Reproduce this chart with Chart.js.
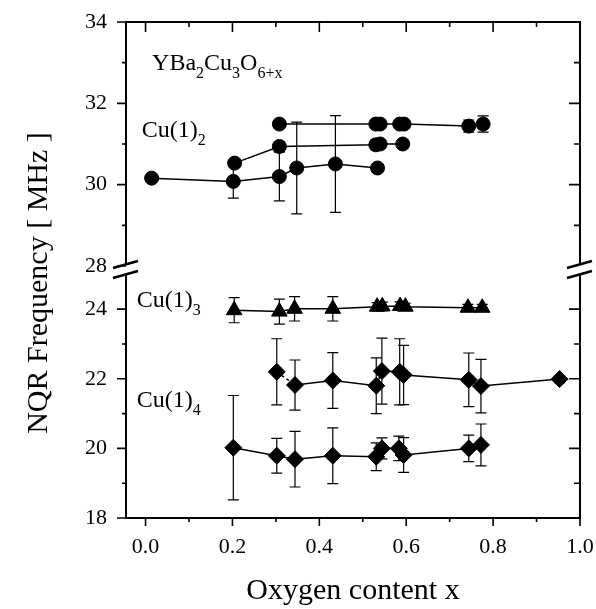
<!DOCTYPE html>
<html>
<head>
<meta charset="utf-8">
<script src="https://cdn.jsdelivr.net/npm/chart.js@4.4.1/dist/chart.umd.min.js"></script>
<style>
  html, body { margin:0; padding:0; background:#fff; }
  #wrap { width:596px; height:609px; }
</style>
</head>
<body>
<div id="wrap"><canvas id="nqr"></canvas></div>
<script>
// Cu(1)2 lines (upper block, 28-34 MHz)
var cu2aX = [0.014, 0.202, 0.308, 0.348, 0.437, 0.534];
var cu2aY = [30.16, 30.08, 30.20, 30.41, 30.51, 30.41];
var cu2aErr = [0.08, 0.41, 0.6, 1.13, 1.19, 0.1];
var cu2bX = [0.205, 0.308, 0.53, 0.54, 0.592];
var cu2bY = [30.53, 30.94, 30.98, 31.0, 31.0];
var cu2bErr = [0.08, 0.12, 0.12, 0.1, 0.06];
var cu2cX = [0.308, 0.53, 0.54, 0.585, 0.595, 0.744, 0.777];
var cu2cY = [31.49, 31.49, 31.49, 31.49, 31.49, 31.44, 31.49];
var cu2cErr = [0.05, 0.1, 0.1, 0.08, 0.08, 0.15, 0.2];
// Cu(1)3
var cu3X = [0.204, 0.308, 0.343, 0.431, 0.533, 0.545, 0.586, 0.598, 0.742, 0.775];
var cu3Y = [23.97, 23.93, 24.01, 24.01, 24.07, 24.08, 24.09, 24.07, 24.04, 24.04];
var cu3Err = [0.36, 0.36, 0.35, 0.35, 0.12, 0.12, 0.12, 0.1, 0.1, 0.1];
// Cu(1)4, two lines
var cu4aX = [0.302, 0.344, 0.431, 0.531, 0.544, 0.585, 0.594, 0.744, 0.772, 0.953];
var cu4aY = [22.2, 21.82, 21.95, 21.8, 22.22, 22.2, 22.11, 21.97, 21.79, 21.99];
var cu4aErr = [0.95, 0.72, 0.8, 0.8, 0.95, 0.95, 0.85, 0.77, 0.77, 0.1];
var cu4bX = [0.202, 0.302, 0.344, 0.431, 0.531, 0.544, 0.583, 0.594, 0.744, 0.772];
var cu4bY = [20.02, 19.79, 19.69, 19.79, 19.76, 20.0, 20.0, 19.81, 20.0, 20.1];
var cu4bErr = [1.5, 0.5, 0.8, 0.8, 0.4, 0.3, 0.35, 0.5, 0.38, 0.6];

// axis ticks
var xTicks = [0, 0.1, 0.2, 0.3, 0.4, 0.5, 0.6, 0.7, 0.8, 0.9, 1.0];
var lowTicks = [18, 19, 20, 21, 22, 23, 24];
var highTicks = [28, 29, 30, 31, 32, 33, 34];

// text labels inside the plot: [text, subscript] pieces, anchored in data space
var noteParts = [
  [['YBa', ''], ['2', 's'], ['Cu', ''], ['3', 's'], ['O', ''], ['6+x', 's']],
  [['Cu(1)', ''], ['2', 's']],
  [['Cu(1)', ''], ['3', 's']],
  [['Cu(1)', ''], ['4', 's']]
];
var noteX = [0.015, -0.009, -0.02, -0.02];
var noteY = [32.82, 31.17, 24.07, 21.2];
var noteAxis = ['y2', 'y2', 'y', 'y'];

var SERIF = "'Liberation Serif', 'Times New Roman', serif";
Chart.defaults.font.family = SERIF;
Chart.defaults.color = '#000';

function pts(xs, ys) {
  return xs.map(function(x, i) { return {x: x, y: ys[i]}; });
}

function series(xs, ys, errs, axis, style, radius) {
  return {
    data: pts(xs, ys),
    errors: errs,
    yAxisID: axis,
    showLine: true,
    borderColor: '#000',
    backgroundColor: '#000',
    borderWidth: 1.5,
    pointStyle: style,
    pointRadius: radius,
    pointHoverRadius: radius,
    pointBorderWidth: 1
  };
}

// no extra room for overhanging tick labels, the frame is pinned by layout padding
function noPad(s) {
  s.paddingTop = 0; s.paddingBottom = 0;
  s.paddingLeft = 0; s.paddingRight = 0;
}

var errorBars = {
  id: 'errorBars',
  beforeDatasetsDraw: function(chart) {
    var ctx = chart.ctx;
    ctx.save();
    ctx.strokeStyle = '#000';
    ctx.lineWidth = 1.2;
    chart.data.datasets.forEach(function(ds, i) {
      var meta = chart.getDatasetMeta(i);
      var ys = chart.scales[meta.yAxisID];
      var xs = chart.scales[meta.xAxisID];
      ds.data.forEach(function(p, j) {
        var e = ds.errors[j];
        var px = xs.getPixelForValue(p.x);
        var top = ys.getPixelForValue(p.y + e);
        var bot = ys.getPixelForValue(p.y - e);
        ctx.beginPath();
        ctx.moveTo(px, top); ctx.lineTo(px, bot);
        ctx.moveTo(px - 5.5, top); ctx.lineTo(px + 5.5, top);
        ctx.moveTo(px - 5.5, bot); ctx.lineTo(px + 5.5, bot);
        ctx.stroke();
      });
    });
    ctx.restore();
  }
};

var frame = {
  id: 'frame',
  afterDraw: function(chart) {
    var ctx = chart.ctx, a = chart.chartArea;
    var x = chart.scales.x, lo = chart.scales.y, hi = chart.scales.y2;
    var yb = hi.bottom;
    ctx.save();
    ctx.strokeStyle = '#000';
    ctx.lineWidth = 2;
    ctx.beginPath();
    ctx.moveTo(a.left - 1, a.top); ctx.lineTo(a.right + 1, a.top);
    ctx.moveTo(a.left - 1, a.bottom); ctx.lineTo(a.right + 1, a.bottom);
    ctx.moveTo(a.left, a.top); ctx.lineTo(a.left, a.bottom);
    ctx.moveTo(a.right, a.top); ctx.lineTo(a.right, a.bottom);
    ctx.stroke();

    // axis break
    [a.left, a.right].forEach(function(ax) {
      ctx.fillStyle = '#fff';
      ctx.fillRect(ax - 3, yb - 1, 6, 9);
      ctx.lineWidth = 2.4;
      ctx.beginPath();
      ctx.moveTo(ax - 13, yb + 2); ctx.lineTo(ax + 12, yb - 5);
      ctx.moveTo(ax - 13, yb + 12); ctx.lineTo(ax + 12, yb + 5);
      ctx.stroke();
    });

    ctx.lineWidth = 1.6;
    ctx.beginPath();
    xTicks.forEach(function(v, i) {
      var px = x.getPixelForValue(v);
      var major = i % 2 === 0;
      ctx.moveTo(px, a.bottom); ctx.lineTo(px, a.bottom + (major ? 8 : 4));
      ctx.moveTo(px, a.top); ctx.lineTo(px, a.top + (major ? 10 : 5));
    });
    [[lo, lowTicks], [hi, highTicks]].forEach(function(pair) {
      pair[1].forEach(function(v) {
        var py = pair[0].getPixelForValue(v);
        var major = v % 2 === 0;
        ctx.moveTo(a.left, py); ctx.lineTo(a.left - (major ? 9 : 4), py);
        if (v !== 28) {
          ctx.moveTo(a.right, py); ctx.lineTo(a.right - (major ? 11 : 6), py);
        }
      });
    });
    ctx.stroke();

    // labels with subscripts
    ctx.fillStyle = '#000';
    ctx.textBaseline = 'alphabetic';
    ctx.textAlign = 'left';
    noteParts.forEach(function(parts, k) {
      var px = x.getPixelForValue(noteX[k]);
      var py = chart.scales[noteAxis[k]].getPixelForValue(noteY[k]);
      parts.forEach(function(p) {
        ctx.font = (p[1] ? '16px ' : '24px ') + SERIF;
        ctx.fillText(p[0], px, p[1] ? py + 8 : py);
        px += ctx.measureText(p[0]).width;
      });
    });

    // y axis title spans both blocks
    ctx.save();
    ctx.translate(39, (a.top + a.bottom) / 2 + 13);
    ctx.rotate(-Math.PI / 2);
    ctx.font = '30px ' + SERIF;
    ctx.textAlign = 'center';
    ctx.textBaseline = 'middle';
    ctx.fillText('NQR Frequency [ MHz ]', 0, 0);
    ctx.restore();
    ctx.restore();
  }
};

function yScale(min, max, ticks, weight) {
  return {
    type: 'linear',
    position: 'left',
    stack: 'freq',
    stackWeight: weight,
    min: min,
    max: max,
    grid: {display: false, drawTicks: false},
    border: {display: false},
    afterBuildTicks: function(s) {
      s.ticks = ticks.map(function(v) { return {value: v}; });
    },
    afterFit: function(s) { s.width = 126; noPad(s); },
    ticks: {
      padding: 19,
      font: {size: 22},
      color: '#000',
      callback: function(v) { return v % 2 === 0 ? String(v) : ''; }
    }
  };
}

new Chart(document.getElementById('nqr'), {
  type: 'scatter',
  data: {
    datasets: [
      series(cu2aX, cu2aY, cu2aErr, 'y2', 'circle', 7),
      series(cu2bX, cu2bY, cu2bErr, 'y2', 'circle', 7),
      series(cu2cX, cu2cY, cu2cErr, 'y2', 'circle', 7),
      series(cu3X, cu3Y, cu3Err, 'y', 'triangle', 9),
      Object.assign(series(cu4aX, cu4aY, cu4aErr, 'y', 'rectRot', 8.5), {
        segment: {borderDash: function(c) { return c.p0DataIndex === 0 ? [3, 3] : undefined; }}
      }),
      series(cu4bX, cu4bY, cu4bErr, 'y', 'rectRot', 8.5)
    ]
  },
  options: {
    responsive: true,
    maintainAspectRatio: false,
    animation: false,
    layout: {padding: {top: 22, right: 16, left: 0, bottom: 0}},
    plugins: {legend: {display: false}, tooltip: {enabled: false}},
    scales: {
      x: {
        type: 'linear',
        position: 'bottom',
        min: -0.045,
        max: 1.0,
        grid: {display: false, drawTicks: false},
        border: {display: false},
        afterBuildTicks: function(s) {
          s.ticks = xTicks.map(function(v) { return {value: v}; });
        },
        afterFit: function(s) { s.height = 91; noPad(s); },
        ticks: {
          padding: 16,
          maxRotation: 0,
          font: {size: 22},
          color: '#000',
          callback: function(v) {
            return Math.round(v * 10) % 2 === 0 ? v.toFixed(1) : '';
          }
        },
        title: {
          display: true,
          text: 'Oxygen content x',
          font: {size: 30},
          color: '#000',
          padding: {top: 0, bottom: 0}
        }
      },
      y: yScale(18, 25.24, lowTicks, 252),
      y2: yScale(28, 34, highTicks, 244)
    }
  },
  plugins: [errorBars, frame]
});
</script>
</body>
</html>
